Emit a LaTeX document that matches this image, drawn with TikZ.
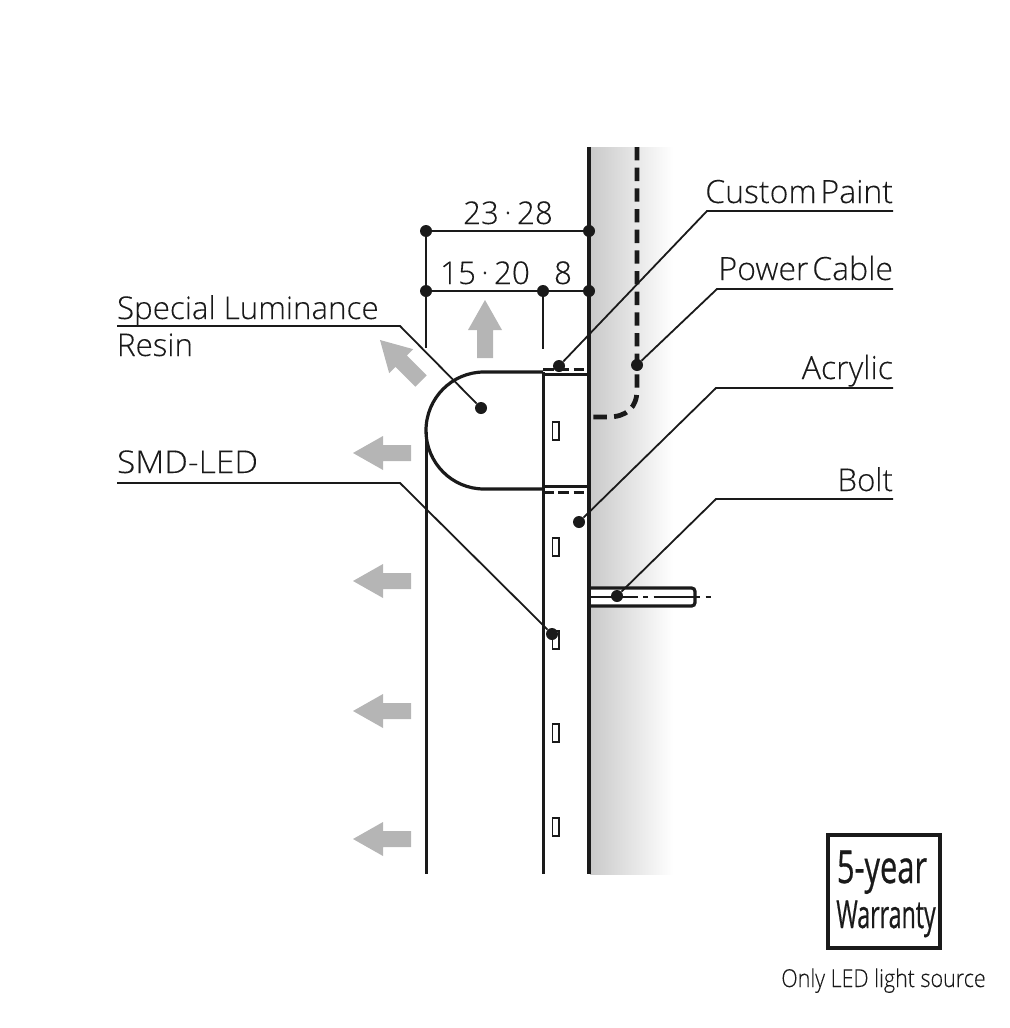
\documentclass[tikz,border=0pt]{standalone}
\usepackage{fontspec}
\setmainfont{Open Sans Light}[FakeBold=0.12]
\newfontfamily\boxfont{Open Sans}[FakeBold=0.7]
\newfontfamily\capfont{Open Sans Light}[FakeBold=0.12]
\definecolor{ink}{HTML}{1A1A1A}
\definecolor{pale}{HTML}{B5B5B5}
\newcommand{\grayarrow}[3]{\fill[pale,shift={(#1,#2)},rotate=#3] (0,8)--(28,8)--(28,17)--(58,0)--(28,-17)--(28,-8)--(0,-8)--cycle;}
\newcommand{\middot}{\hspace{.17em}·\hspace{.17em}}
\tikzset{
  lbl/.style={inner sep=0pt,outer sep=0pt,text=ink,font=\fontsize{23.5}{28}\selectfont},
  wlbl/.style={inner sep=0pt,outer sep=0pt,text=ink,font=\fontsize{24}{28}\selectfont},
  dotn/.style={circle,fill=ink,inner sep=0pt,minimum size=9pt},
  leader/.style={draw=ink,line width=1.35pt},
  dimline/.style={draw=ink,line width=1.6pt},
  heavy/.style={draw=ink,line width=2.4pt},
  medium/.style={draw=ink,line width=2.2pt},
  ledbox/.style={draw=ink,line width=1pt,fill=white,minimum width=5pt,minimum height=13.5pt,inner sep=0pt},
}
\begin{document}
\begin{tikzpicture}[x=0.75pt,y=-0.75pt]
\useasboundingbox (0,0) rectangle (1010,1028);
% wall shading
\shade[left color=black!21,right color=white] (590,147) rectangle (673,874);
% main verticals
\draw[heavy,line width=2.25pt] (426.4,432) -- (426.4,874);
\draw[medium] (543.5,372) -- (543.5,874);
\draw[heavy,line width=3.1pt] (589,147) -- (589,874);
% dome
\draw[heavy] (543,372) -- (484,372) arc[start angle=90,end angle=270,x radius=58,y radius=-58.5] -- (543,489);
% acrylic edges
\draw[medium] (543,374.5) -- (589,374.5);
\draw[medium] (543,486.5) -- (589,486.5);
\draw[medium,dash pattern=on 8pt off 3.5pt] (543,369.5) -- (589,369.5);
\draw[medium,dash pattern=on 8pt off 3.5pt] (543,492.5) -- (589,492.5);
% LEDs
\foreach \n/\y in {a/431,b/547,c/640,d/733,e/827}
  \node[ledbox] (led\n) at (555.5,\y) {};
% power cable
\draw[heavy,line width=3.6pt,dash pattern=on 10pt off 5.5pt] (637,147) -- (637,390) .. controls (637,408) and (626,417) .. (608,417) -- (588,417);
% bolt
\draw[heavy,fill=white,rounded corners=2.5pt] (591,588) -- (695,588) -- (695,606) -- (591,606);
\draw[draw=ink,line width=1.1pt,dash pattern=on 35pt off 4pt on 4pt off 4pt] (591,597) -- (713,597);
% gray arrows
\grayarrow{411}{453}{180}
\grayarrow{411}{581}{180}
\grayarrow{411}{711}{180}
\grayarrow{411}{839}{180}
\grayarrow{485}{358}{90}
\grayarrow{421}{381}{135}
% dimension lines
\node[dotn] (p1) at (426,231) {};
\node[dotn] (p2) at (589,231) {};
\node[dotn] (p3) at (426,291) {};
\node[dotn] (p4) at (543,291) {};
\node[dotn] (p5) at (589,291) {};
\coordinate (e1) at (426,348);
\coordinate (e2) at (543,349);
\draw[dimline] (p1) -- (p2);
\draw[dimline] (p3) -- (p5);
\draw[dimline] (p1) -- (e1);
\draw[dimline] (p4) -- (e2);
\node[lbl,anchor=base] (t1) at (508,224) {23\middot 28};
\node[lbl,anchor=base] (t2) at (485,284) {15\middot 20};
\node[lbl,anchor=base] (t3) at (563,284) {8};
% labels and leaders
\node[dotn] (dpaint) at (559,366) {};
\node[dotn] (dcable) at (637,365) {};
\node[dotn] (dacr) at (579,522) {};
\node[dotn] (dbolt) at (617,596) {};
\node[dotn] (dresin) at (481,408) {};
\node[dotn] (dsmd) at (552,634) {};
\node[wlbl,anchor=base east] (lpaint) at (893,203) {Custom\hspace{.12em}Paint};
\node[wlbl,anchor=base east] (lcable) at (893,280) {Power\hspace{.12em}Cable};
\node[wlbl,anchor=base east] (lacr) at (893,379) {Acrylic};
\node[lbl,anchor=base east] (lbolt) at (893,491) {Bolt};
\node[lbl,anchor=base west] (lresin) at (117,319) {Special Luminance};
\node[lbl,anchor=base west] (lresinb) at (117,356) {Resin};
\node[lbl,anchor=base west] (lsmd) at (117,473) {\scalebox{1.07}[1]{SMD-LED}};
\coordinate (a1) at (893,211); \coordinate (b1) at (707,211);
\coordinate (a2) at (893,289); \coordinate (b2) at (717,289);
\coordinate (a3) at (893,388); \coordinate (b3) at (716,388);
\coordinate (a4) at (893,499); \coordinate (b4) at (716,499);
\coordinate (a5) at (117,326); \coordinate (b5) at (400,326);
\coordinate (a6) at (117,483); \coordinate (b6) at (400,483);
\draw[leader] (a1) -- (b1) -- (dpaint);
\draw[leader] (a2) -- (b2) -- (dcable);
\draw[leader] (a3) -- (b3) -- (dacr);
\draw[leader] (a4) -- (b4) -- (dbolt);
\draw[leader] (a5) -- (b5) -- (dresin);
\draw[leader] (a6) -- (b6) -- (dsmd);
% warranty
\node[draw=ink,line width=3.3pt,minimum width=84pt,minimum height=85pt,inner sep=0pt] (wbox) at (884,891.5) {};
\node[inner sep=0pt,anchor=base,text=ink] (w1) at (882,883) {\boxfont\fontsize{34}{34}\selectfont\scalebox{.68}[1]{5-year}};
\node[inner sep=0pt,anchor=base,text=ink] (w2) at (886,928) {\boxfont\fontsize{29}{29}\selectfont\scalebox{.60}[1]{Warranty}};
\node[inner sep=0pt,anchor=base,text=ink] (w3) at (883.5,987) {\capfont\fontsize{18.5}{20}\selectfont\scalebox{.87}[1]{Only LED light source}};
\end{tikzpicture}
\end{document}
